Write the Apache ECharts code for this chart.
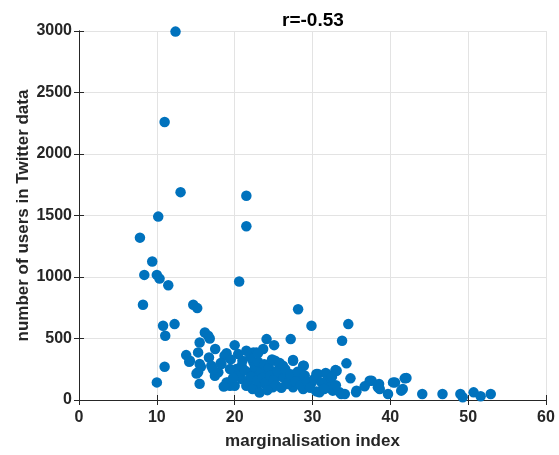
<!DOCTYPE html>
<html>
<head>
<meta charset="utf-8">
<script src="https://cdn.jsdelivr.net/npm/echarts@6/dist/echarts.min.js"></script>
<style>
  html, body { margin: 0; padding: 0; background: #fff; }
  #chart { width: 559px; height: 455px; }
</style>
</head>
<body>
<div id="chart"></div>
<script>
// Marginalisation index per area
const marginalisation = [
  12.4, 11.0, 13.05, 21.5, 21.5, 10.18, 7.83, 9.41, 8.39, 10.0, 10.35, 11.47, 20.58,
  8.22, 14.68, 15.19, 10.8, 11.08, 12.28, 11.0, 10.0,
  13.77, 14.16, 15.1, 15.5, 15.66, 15.3, 15.5, 16.17, 16.6, 16.8, 16.7, 17.46, 17.5,
  18.96, 18.96, 19.4, 20.0, 20.45, 20.24, 24.1, 22.8,
  28.15, 29.87, 34.6, 27.2, 33.8, 25.07, 34.36, 28.88, 27.5, 30.5, 31.7, 32.95, 34.88,
  33.7, 35.6, 37.35, 38.4, 33.0, 35.65, 36.7, 38.55, 38.64, 39.7, 40.35, 41.4, 42.07,
  44.1, 46.7, 49.0, 49.3, 50.7, 51.6, 52.9, 32.2, 32.6, 33.5, 34.15,
  14.25, 15.5, 15.3, 17.0, 17.9, 18.7, 22.2, 22.4, 18.3, 19.4, 20.9, 20.9, 21.5, 19.17, 20.0,
  23.66, 22.4, 25.2, 27.5, 28.8, 26.2, 22.8, 24.1, 25.8, 27.5, 28.4, 29.9, 30.7, 31.8,
  30.9, 31.8, 22.8, 24.9, 27.5, 28.8, 26.7, 23.9, 33.1, 32.2, 37.6, 40.6, 41.85, 41.6,
  20.5, 21.0, 21.3, 21.8, 22.0, 22.1, 22.3, 22.6, 22.9, 23.0, 23.2, 23.4, 23.6, 23.8,
  24.0, 24.2, 24.4, 24.6, 24.8, 25.0, 25.3, 25.5, 25.8, 26.0, 26.3, 26.5, 26.9, 27.2,
  27.8, 28.1, 28.5, 29.0, 29.3, 29.7, 30.2, 30.5, 31.2, 31.5, 32.5, 33.0, 23.0, 21.5,
  19.5, 18.2, 17.2, 19.8, 18.6
];

// Number of Twitter users in the same areas
const twitterUsers = [
  2995, 2260, 1690, 1661, 1412, 1491, 1320, 1126, 1017, 1017, 987, 933, 963,
  774, 774, 747, 603, 522, 617, 270, 143,
  365, 311, 216, 132, 270, 387, 468, 549, 522, 500, 346, 197, 414,
  381, 143, 116, 446, 373, 252, 495, 387,
  738, 603, 617, 495, 481, 446, 298, 279, 325, 211, 219, 243, 176,
  49, 62, 157, 103, 238, 76, 111, 130, 89, 49, 143, 76, 179,
  49, 49, 49, 22, 62, 30, 49, 170, 76, 62, 49,
  319, 292, 225, 279, 225, 360, 225, 387, 292, 252, 279, 170, 116, 143, 116,
  414, 306, 319, 319, 279, 279, 225, 225, 197, 170, 170, 143, 211, 211,
  62, 103, 103, 103, 103, 89, 130, 130, 238, 103, 157, 143, 176, 89,
  200, 320, 240, 150, 350, 190, 90, 270, 160, 310, 60, 230, 180, 290,
  140, 80, 260, 200, 330, 160, 120, 240, 300, 100, 180, 250, 140, 210,
  150, 230, 120, 200, 150, 100, 170, 70, 140, 90, 190, 120, 380, 400,
  330, 300, 250, 180, 110
];

const titleText = 'r=-0.53';
const xName = 'marginalisation index';
const yName = 'number of users in Twitter data';

const points = marginalisation.map((x, i) => [x, twitterUsers[i]]);

const textColor = '#262626';
const fontFamily = '"Liberation Sans", Arial, Helvetica, sans-serif';
const boxLine = { show: true, lineStyle: { color: '#262626', width: 1 } };
const innerTick = { show: true, inside: true, length: 5, lineStyle: { color: '#262626' } };
const plainNumber = v => String(v);

const chart = echarts.init(document.getElementById('chart'), null, { renderer: 'canvas' });
chart.setOption({
  animation: false,
  backgroundColor: '#ffffff',
  title: {
    text: titleText,
    left: 277, top: 6,
    textStyle: { fontFamily, fontWeight: 'bold', fontSize: 19, color: '#000' }
  },
  grid: { left: 79, right: 13, top: 31, bottom: 54, containLabel: false },
  xAxis: [
    {
      type: 'value', min: 0, max: 60, interval: 10, position: 'bottom',
      name: xName, nameLocation: 'middle', nameGap: 33, nameMoveOverlap: false,
      nameTextStyle: { fontFamily, fontWeight: 'bold', fontSize: 17, color: textColor },
      axisLine: boxLine, axisTick: innerTick,
      axisLabel: { fontFamily, fontWeight: 'bold', fontSize: 16, color: textColor, margin: 10, formatter: plainNumber },
      splitLine: { show: true, lineStyle: { color: '#e3e3e3', width: 1 } }
    },
    {
      type: 'value', min: 0, max: 60, interval: 10, position: 'top',
      axisLine: boxLine, axisTick: innerTick,
      axisLabel: { show: false }, splitLine: { show: false }
    }
  ],
  yAxis: [
    {
      type: 'value', min: 0, max: 3000, interval: 500, position: 'left',
      name: yName, nameLocation: 'middle', nameGap: 47, nameRotate: 90, nameMoveOverlap: false,
      nameTextStyle: { fontFamily, fontWeight: 'bold', fontSize: 17, color: textColor },
      axisLine: boxLine, axisTick: innerTick,
      axisLabel: { fontFamily, fontWeight: 'bold', fontSize: 16, color: textColor, margin: 7, formatter: plainNumber },
      splitLine: { show: true, lineStyle: { color: '#e3e3e3', width: 1 } }
    },
    {
      type: 'value', min: 0, max: 3000, interval: 500, position: 'right',
      axisLine: boxLine, axisTick: innerTick,
      axisLabel: { show: false }, splitLine: { show: false }
    }
  ],
  series: [
    {
      type: 'scatter',
      data: points,
      symbol: 'circle',
      symbolSize: 10.5,
      itemStyle: { color: '#0072BD', opacity: 1 }
    }
  ]
});
</script>
</body>
</html>
